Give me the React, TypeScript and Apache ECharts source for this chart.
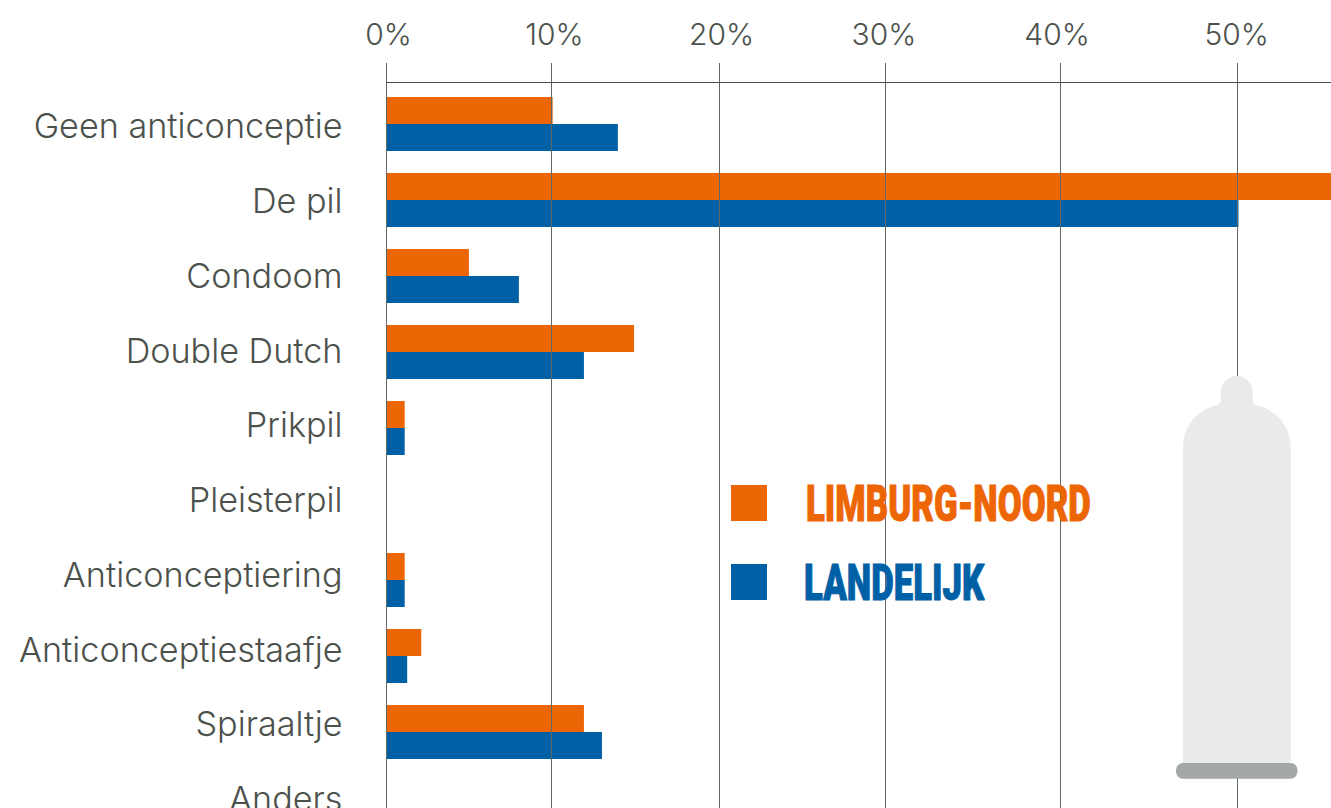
import React, { useEffect, useRef } from "react";
import * as echarts from "echarts";

const categories = ["Geen anticonceptie", "De pil", "Condoom", "Double Dutch", "Prikpil", "Pleisterpil", "Anticonceptiering", "Anticonceptiestaafje", "Spiraaltje", "Anders"];
const limburgNoord = [10.04, 57.5, 4.98, 14.96, 1.1, 0, 1.1, 2.1, 11.93, 0];
const landelijk = [13.98, 51.48, 8, 11.93, 1.1, 0, 1.1, 1.25, 13.02, 0];
const seriesNames = ["LIMBURG-NOORD", "LANDELIJK"];
const tickPositions = [0, 9.94, 20.09, 30.12, 40.72, 51.43];
const labelPositions = [0.12, 10.15, 20.25, 30.06, 40.52, 51.37];
const tickLabels = ["0%", "10%", "20%", "30%", "40%", "50%"];

const ORANGE = "#ED6605";
const BLUE = "#0060A6";
const TEXT = "#4C514C";
const FONT = "Inter";
const AXIS_MAX = 57.07;

const condomPath =
  "M1183 763 V448 C1183 425 1198 410 1217 405 Q1220.7 404 1220.7 401 V392 A16 16 0 0 1 1252.7 392 V401 Q1252.7 404 1256 405 C1276 410 1290.7 425 1290.7 448 V763 Z";
echarts.graphic.registerShape("condom", echarts.graphic.extendPath(condomPath, {}) as any);

export default function App() {
  const ref = useRef<HTMLDivElement>(null);
  useEffect(() => {
    const chart = echarts.init(ref.current!, null, { renderer: "svg" });
    const hiddenX = { type: "value" as const, min: 0, max: AXIS_MAX, show: false };
    chart.setOption({
      animation: false,
      backgroundColor: "#fff",
      grid: [
        { left: 386.5, top: 86, width: 944.5, height: 760, containLabel: false, outerBoundsMode: "none" },
        { left: 386.5, top: 88.6, width: 944.5, height: 747.5, containLabel: false, outerBoundsMode: "none" },
        { left: 386.5, top: 63, width: 944.5, height: 745, containLabel: false, outerBoundsMode: "none" },
      ],
      xAxis: [
        { ...hiddenX, gridIndex: 0 },
        { ...hiddenX, gridIndex: 1 },
        {
          type: "value",
          gridIndex: 2,
          position: "top",
          min: 0,
          max: AXIS_MAX,
          offset: -19.5,
          z: 5,
          axisLine: { show: true, onZero: false, lineStyle: { color: "#4A5049", width: 1 } },
          axisTick: { show: false, customValues: tickPositions },
          axisLabel: {
            customValues: labelPositions,
            margin: 34,
            color: TEXT,
            fontFamily: FONT,
            fontWeight: 300,
            fontSize: 30,
            hideOverlap: false,
            formatter: (v: number) => tickLabels[labelPositions.indexOf(v)],
          },
          splitLine: { show: true, showMinLine: true, lineStyle: { color: "#626763", width: 1 } },
        },
      ],
      yAxis: [
        { type: "category", gridIndex: 0, inverse: true, data: categories, show: false },
        {
          type: "category",
          gridIndex: 1,
          inverse: true,
          data: categories,
          axisLine: { show: false },
          axisTick: { show: false },
          splitLine: { show: false },
          axisLabel: { interval: 0, margin: 44, color: TEXT, fontFamily: FONT, fontWeight: 300, fontSize: 34.2 },
        },
        { type: "category", gridIndex: 2, inverse: true, data: categories, show: false },
      ],
      series: [
        { name: seriesNames[0], type: "bar", xAxisIndex: 0, yAxisIndex: 0, data: limburgNoord, barWidth: 27, barGap: "0%", itemStyle: { color: ORANGE } },
        { name: seriesNames[1], type: "bar", xAxisIndex: 0, yAxisIndex: 0, data: landelijk, barWidth: 27, barGap: "0%", itemStyle: { color: BLUE } },
      ],
      graphic: [
        { type: "condom", x: 0, y: 0, z: 10, style: { fill: "#E9EBEA" } },
        { type: "rect", z: 11, shape: { x: 1176, y: 763, width: 121.5, height: 15.7, r: 7 }, style: { fill: "#A3A9A4" } },
        { type: "rect", z: 11, shape: { x: 731, y: 485, width: 36, height: 36 }, style: { fill: ORANGE } },
        { type: "rect", z: 11, shape: { x: 731, y: 564, width: 36, height: 36 }, style: { fill: BLUE } },
        {
          type: "text", z: 11, x: 806, y: 479, scaleX: 0.695, scaleY: 1,
          style: { text: seriesNames[0], fill: ORANGE, stroke: ORANGE, lineWidth: 1, font: '900 50px Roboto', textVerticalAlign: "top" },
        },
        {
          type: "text", z: 11, x: 804, y: 558, scaleX: 0.695, scaleY: 1,
          style: { text: seriesNames[1], fill: BLUE, stroke: BLUE, lineWidth: 1, font: '900 50px Roboto', textVerticalAlign: "top" },
        },
      ],
    });
    return () => chart.dispose();
  }, []);
  return <div ref={ref} style={{ position: "absolute", left: 0, top: 0, width: 1331, height: 808 }} />;
}
